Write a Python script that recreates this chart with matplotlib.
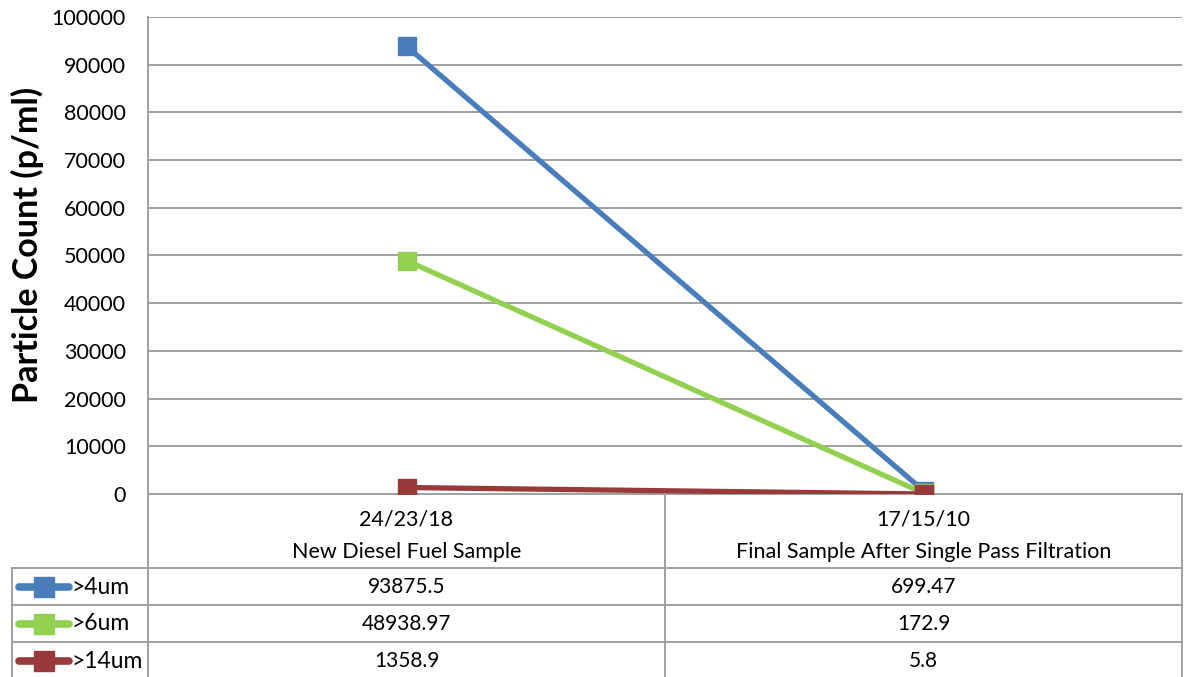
import matplotlib.pyplot as plt
from matplotlib.lines import Line2D

plt.rcParams['font.family'] = ['Lato', 'DejaVu Sans']

categories = ['New Diesel Fuel Sample', 'Final Sample After Single Pass Filtration']
iso_codes = ['24/23/18', '17/15/10']
series_names = ['>4um', '>6um', '>14um']
v4 = [93875.5, 699.47]
v6 = [48938.97, 172.9]
v14 = [1358.9, 5.8]
labels_txt = [['93875.5', '699.47'], ['48938.97', '172.9'], ['1358.9', '5.8']]
colors = ['#4A7EBB', '#92D050', '#983A39']
yticks = list(range(0, 100001, 10000))

W, H = 1184, 677
fig = plt.figure(figsize=(W / 100, H / 100), dpi=100)
x0, x1, ytop, ybot = 148, 1182, 17, 494
ax = fig.add_axes([x0 / W, 1 - ybot / H, (x1 - x0) / W, (ybot - ytop) / H])

grid_c = '#A0A0A0'
xs = [0.5, 1.5]
for vals, c in zip([v4, v6, v14], colors):
    ax.plot(xs, vals, color=c, lw=3.8, marker='s', markersize=13.5,
            markerfacecolor=c, markeredgecolor=c, solid_capstyle='butt', zorder=3)

ax.set_xlim(0, 2)
ax.set_ylim(0, 100000)
ax.set_yticks(yticks)
ax.set_yticklabels([str(t) for t in yticks], fontsize=15.5)
ax.set_xticks([])
ax.tick_params(axis='y', length=0, pad=16)
ax.grid(axis='y', color=grid_c, lw=1.4)
ax.set_axisbelow(True)
for s in ['top', 'right']:
    ax.spines[s].set_visible(False)
ax.spines['left'].set_color(grid_c)
ax.spines['left'].set_linewidth(1.4)
ax.spines['bottom'].set_color(grid_c)
ax.spines['bottom'].set_linewidth(1.4)
ax.set_ylabel('Particle Count (p/ml)', fontsize=24.5, fontweight='bold')
ax.yaxis.set_label_coords((44 - x0) / (x1 - x0), (ybot - 245) / (ybot - ytop))

# data table under the plot
tab = fig.add_axes([0, 0, 1, 1])
tab.set_xlim(0, W)
tab.set_ylim(H, 0)
tab.axis('off')
tab.patch.set_alpha(0)

def hl(y, xa, xb):
    tab.add_line(Line2D([xa, xb], [y, y], color=grid_c, lw=1.4))

def vl(x, ya, yb):
    tab.add_line(Line2D([x, x], [ya, yb], color=grid_c, lw=1.4))

xmid = (x0 + x1) / 2
row_y = [568, 605, 642]
for y in row_y:
    hl(y, 12, x1)
vl(12, 568, H)
vl(x0, ybot, H)
vl(xmid, ybot, H)
vl(x1, ybot, H)

col_cx = [(x0 + xmid) / 2, (xmid + x1) / 2]
for cx, code, cat in zip(col_cx, iso_codes, categories):
    tab.text(cx, 520, code, ha='center', va='center', fontsize=15.5)
    tab.text(cx, 552, cat, ha='center', va='center', fontsize=15.5)

for i, (name, c) in enumerate(zip(series_names, colors)):
    y_top = row_y[i]
    yc = y_top + 19
    tab.add_line(Line2D([19, 69], [yc, yc], color=c, lw=5.5, solid_capstyle='round'))
    tab.plot([44], [yc], marker='s', markersize=14, color=c)
    tab.text(71, yc, name, ha='left', va='center', fontsize=16.5)
    for cx, t in zip(col_cx, labels_txt[i]):
        tab.text(cx, yc, t, ha='center', va='center', fontsize=15)

fig.savefig('out.png', dpi=100)
